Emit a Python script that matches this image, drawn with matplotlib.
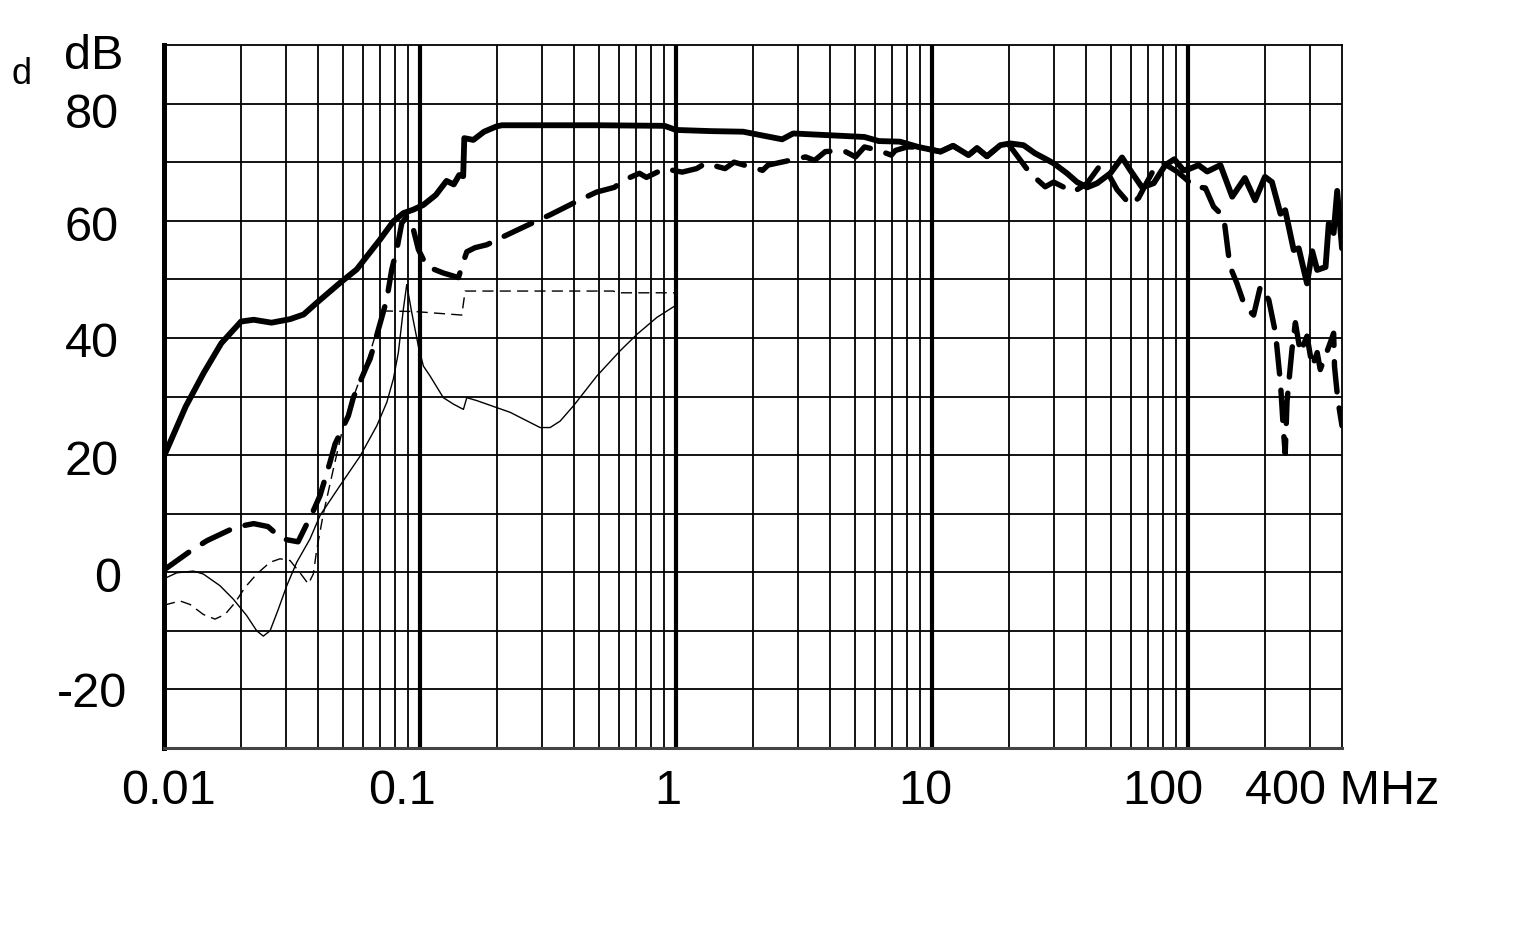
import numpy as np
import matplotlib
matplotlib.use("Agg")
import matplotlib.pyplot as plt

plt.rcParams['font.family'] = ['Liberation Sans', 'DejaVu Sans']

# ---------------- data ----------------
# thick solid curve
s1_f = [0.01, 0.01216, 0.01428, 0.01675, 0.02, 0.0224, 0.0263, 0.03107, 0.0351, 0.03952,
        0.04872, 0.05663, 0.0607, 0.06984, 0.07872, 0.08611, 0.09424, 0.1031, 0.1153, 0.127,
        0.1355, 0.1423, 0.1475, 0.149, 0.1616, 0.178, 0.199, 0.209, 0.5, 0.902,
        1.0, 1.368, 1.83, 2.15, 2.60, 2.87, 3.96, 5.45, 6.2, 7.5,
        8.83, 10.8, 12.1, 13.9, 15.0, 16.4, 18.5, 20.2, 22.8, 25.3,
        27.7, 29.9, 33.7, 36.9, 40.4, 44.2, 49.8, 55.3, 59.6, 66.2,
        73.5, 81.6, 88.5, 96.2, 102, 110, 119, 134, 149, 167,
        183, 200, 213, 230, 240, 259, 271, 292, 306, 320,
        345, 355, 371, 383, 400]
s1_db = [19.8, 28.3, 34.0, 39.1, 42.8, 43.1, 42.6, 43.2, 44.0, 46.0,
         49.4, 51.7, 53.4, 56.8, 59.9, 61.3, 61.9, 62.7, 64.4, 66.8,
         66.2, 67.8, 67.6, 74.1, 73.8, 75.2, 76.1, 76.3, 76.3, 76.2,
         75.5, 75.3, 75.2, 74.6, 73.9, 74.9, 74.6, 74.3, 73.6, 73.5,
         72.6, 71.8, 72.8, 71.2, 72.4, 71.0, 72.9, 73.2, 72.9, 71.5,
         70.6, 69.8, 68.1, 66.6, 65.7, 66.4, 68.1, 70.8, 68.6, 65.7,
         66.4, 69.5, 70.5, 68.6, 68.9, 69.5, 68.4, 69.5, 64.1, 67.3,
         63.5, 67.5, 66.6, 61.2, 61.8, 55.0, 55.3, 49.3, 54.8, 51.6,
         52.1, 59.5, 57.9, 65.1, 55.3]

# thick dashed curve
s2_f = [0.01, 0.01276, 0.01473, 0.01905, 0.0224, 0.02547, 0.0289, 0.0334, 0.03831, 0.04071,
        0.04453, 0.04659, 0.0525, 0.05491, 0.06197, 0.06383, 0.07093, 0.07419, 0.0776, 0.08118,
        0.08491, 0.08878, 0.0929, 0.09856, 0.1063, 0.123, 0.1413, 0.1478, 0.1524, 0.164,
        0.1824, 0.212, 0.274, 0.322, 0.410, 0.490, 0.575, 0.623, 0.72, 0.767,
        0.902, 1.057, 1.204, 1.305, 1.556, 1.687, 1.95, 2.18, 2.29, 2.78,
        3.21, 3.48, 3.83, 4.5, 5.03, 5.45, 6.2, 6.94, 7.2, 8.0,
        8.83, 10.8, 12.1, 13.9, 15.0, 16.4, 18.5, 19.9, 24.2, 27.7,
        29.9, 35.7, 40.4, 45.5, 48.3, 52.9, 59.6, 64.2, 69.2, 74.6,
        80.4, 90.6, 99, 105, 117, 126, 138, 146, 155.5, 167,
        180.6, 192, 207, 220, 230, 236.6, 240, 244, 255, 263,
        275, 292, 306, 320, 329, 360, 371, 374, 385, 400]
s2_db = [0.4, 3.7, 5.4, 7.7, 8.3, 7.8, 5.7, 5.2, 10.5, 13.1,
         18.8, 21.9, 26.7, 29.8, 35.2, 36.4, 43.5, 46.6, 51.7, 55.1,
         59.6, 60.7, 59.6, 55.1, 52.2, 51.1, 50.3, 53.0, 54.7, 55.4,
         55.9, 57.3, 59.6, 61.0, 63.3, 64.9, 65.7, 66.9, 68.1, 67.4,
         68.9, 68.3, 68.9, 69.8, 68.9, 70.0, 69.2, 68.6, 69.5, 70.3,
         70.9, 70.3, 71.8, 72.0, 70.9, 72.6, 72.0, 71.2, 72.0, 72.6,
         72.6, 71.8, 72.8, 71.2, 72.4, 71.0, 72.9, 73.1, 68.1, 65.8,
         66.6, 64.9, 66.4, 69.5, 68.4, 65.3, 62.7, 63.9, 66.6, 69.2,
         69.8, 68.4, 67.0, 65.8, 65.6, 62.4, 60.7, 52.2, 49.3, 45.4,
         43.9, 48.8, 46.5, 40.8, 32.3, 23.7, 20.3, 29.2, 38.0, 42.6,
         37.5, 40.3, 35.1, 37.5, 34.6, 39.2, 40.8, 35.1, 29.5, 25.0]

# thin solid curve
s3_f = [0.01, 0.01024, 0.01121, 0.01302, 0.01424, 0.01655, 0.01866, 0.02104, 0.02303, 0.02443,
        0.02596, 0.02797, 0.03017, 0.03301, 0.0372, 0.04071, 0.04872, 0.05832, 0.06781, 0.07419,
        0.07872, 0.08233, 0.08611, 0.08878, 0.0929, 0.09856, 0.1031, 0.1095, 0.1234, 0.1351,
        0.1478, 0.1524, 0.1667, 0.225, 0.2947, 0.3224, 0.3528, 0.3977, 0.4909, 0.6053,
        0.7036, 0.8423, 0.9777, 1.0]
s3_db = [-1.2, -0.9, -0.1, 0.2, -0.3, -2.3, -4.6, -7.4, -10.0, -10.9,
         -10.0, -6.3, -2.3, 1.7, 5.7, 9.7, 14.8, 19.8, 25.0, 29.0,
         33.0, 37.5, 44.9, 49.1, 44.3, 38.6, 35.2, 33.5, 29.8, 28.7,
         27.8, 29.8, 29.3, 27.3, 24.7, 24.7, 25.8, 28.4, 33.5, 37.8,
         40.6, 43.5, 45.3, 45.6]

# thin dashed curve
s4_f = [0.01, 0.01024, 0.01155, 0.01264, 0.01424, 0.01582, 0.01731, 0.01894, 0.02072, 0.02303,
        0.02596, 0.0284, 0.03107, 0.034, 0.03663, 0.03831, 0.03952, 0.04194, 0.04587, 0.0502,
        0.05333, 0.05832, 0.06383, 0.06984, 0.07305, 0.0957, 0.1457, 0.1501, 0.5698, 0.5924,
        1.0]
s4_db = [-5.6, -5.5, -4.9, -5.5, -7.2, -8.0, -7.2, -5.2, -2.6, -0.3,
         1.7, 2.3, 2.0, -0.1, -2.0, -0.3, 3.9, 10.0, 17.6, 25.0,
         28.4, 33.0, 37.5, 43.1, 44.6, 44.5, 43.9, 48.0, 48.0, 47.7,
         47.7]

y_ticks = [-20, 0, 20, 40, 60, 80]
y_tick_labels = ['-20', '0', '20', '40', '60', '80']
x_ticks = [0.0104, 0.0853, 0.93, 9.44, 79.6, 400]
x_tick_labels = ['0.01', '0.1', '1', '10', '100', '400 MHz']

# ---------------- figure ----------------
W, H = 1520, 931
fig = plt.figure(figsize=(W / 100, H / 100), dpi=100)
L, R, T, B = 164, 1342, 45, 748
ax = fig.add_axes([L / W, 1 - B / H, (R - L) / W, (B - T) / H])
ax.set_xscale('log')
ax.set_xlim(0.01, 400)
ax.set_ylim(-30, 90)

# grid
for dec in [0.01, 0.1, 1, 10, 100]:
    for m in range(2, 10):
        v = dec * m
        if v < 400:
            ax.axvline(v, color='black', lw=1.3, zorder=1)
for v in [0.1, 1, 10, 100]:
    ax.axvline(v, color='black', lw=3.0, zorder=1)
for v in range(-20, 90, 10):
    ax.axhline(v, color='black', lw=1.3, zorder=1)

for side in ['top', 'right']:
    ax.spines[side].set_linewidth(1.3)
    ax.spines[side].set_color('black')
ax.spines['left'].set_linewidth(3.6)
ax.spines['bottom'].set_linewidth(2.2)
ax.spines['bottom'].set_color('#444444')
ax.tick_params(which='both', length=0, labelleft=False, labelbottom=False)
ax.set_xticks([])
ax.set_yticks([])
ax.minorticks_off()

# curves
ax.plot(s1_f, s1_db, color='black', lw=4.2, solid_joinstyle='round', solid_capstyle='round', zorder=5)
ax.plot(s2_f, s2_db, color='black', lw=3.9, dashes=(5.6, 3.0), dash_capstyle='round',
        dash_joinstyle='round', zorder=4)
ax.plot(s3_f, s3_db, color='black', lw=1.0, zorder=3)
ax.plot(s4_f, s4_db, color='black', lw=1.0, dashes=(8, 4.5), zorder=3)

# tick labels as text
fs = 35
ylab_x_px = [92, 107.5, 92, 92, 92, 92]
ylab_off = [-0.85, -1.25, -1.2, -1.2, -1.25, -2.05]
for v, lab, xp, off in zip(y_ticks, y_tick_labels, ylab_x_px, ylab_off):
    ax.text((xp - L) / (R - L), v + off, lab, transform=ax.get_yaxis_transform(),
            ha='center', va='center', fontsize=fs, clip_on=False)
ax.text((94 - L) / (R - L), 88.05, 'dB', transform=ax.get_yaxis_transform(),
        ha='center', va='center', fontsize=fs, clip_on=False)
fig.text(21.7 / W, 1 - 74 / H, 'd', ha='center', va='center', fontsize=26)

ylab_axes = (B - 791) / (B - T)
for v, lab in zip(x_ticks, x_tick_labels):
    ax.text(v, ylab_axes, lab, transform=ax.get_xaxis_transform(),
            ha='center', va='center', fontsize=fs, clip_on=False)

fig.savefig('out.png', dpi=100)
